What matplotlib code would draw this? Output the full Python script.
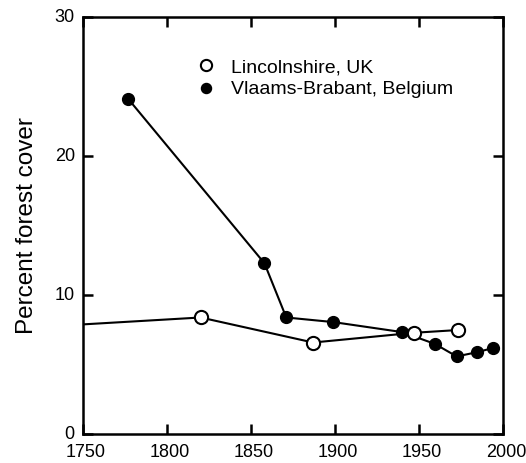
import matplotlib
matplotlib.use("Agg")
import matplotlib.pyplot as plt
import matplotlib.transforms as mtransforms

plt.rcParams['font.family'] = ['Liberation Sans', 'DejaVu Sans']

lin_years = [1700, 1820, 1887, 1947, 1973.5]
lin_vals = [7.55, 8.4, 6.6, 7.3, 7.5]

vb_years = [1777, 1858, 1871, 1899, 1940, 1959.5, 1972.5, 1984.5, 1994]
vb_vals = [24.1, 12.3, 8.4, 8.07, 7.35, 6.5, 5.6, 5.9, 6.2]

xticks = [1750, 1800, 1850, 1900, 1950, 2000]
yticks = [0, 10, 20, 30]

fig = plt.figure(figsize=(5.26, 4.63), dpi=100)
ax = fig.add_axes([0.158, 0.062, 0.798, 0.901])

ax.plot(lin_years, lin_vals, '-', color='black', lw=1.5, marker='o', ms=9.5,
        mfc='white', mec='black', mew=1.5, label='Lincolnshire, UK', zorder=3)
ax.plot(vb_years, vb_vals, '-', color='black', lw=1.5, marker='o', ms=8.5,
        mfc='black', mec='black', label='Vlaams-Brabant, Belgium', zorder=2)

ax.set_xlim(1750, 2000)
ax.set_ylim(0, 30)
ax.set_xticks(xticks)
ax.set_yticks(yticks)
ax.tick_params(direction='in', length=7, width=1.8, top=True, right=True,
               labelsize=13)
ax.tick_params(axis='x', pad=7)
ax.tick_params(axis='y', pad=6)
for s in ax.spines.values():
    s.set_linewidth(1.8)
ax.set_ylabel('Percent forest cover', fontsize=17.5, labelpad=12)

# nudge x tick labels slightly right and y tick labels slightly up
dx = mtransforms.ScaledTranslation(3 / 100, 0, fig.dpi_scale_trans)
for lbl in ax.get_xticklabels():
    lbl.set_transform(lbl.get_transform() + dx)
dy = mtransforms.ScaledTranslation(0, 2 / 100, fig.dpi_scale_trans)
for lbl in ax.get_yticklabels():
    lbl.set_transform(lbl.get_transform() + dy)

ax.legend(loc='upper left', bbox_to_anchor=(0.25, 0.943), frameon=False,
          fontsize=14, handlelength=0, handletextpad=1.3, labelspacing=0.25,
          markerscale=0.85)

fig.savefig('out.png', dpi=100)
